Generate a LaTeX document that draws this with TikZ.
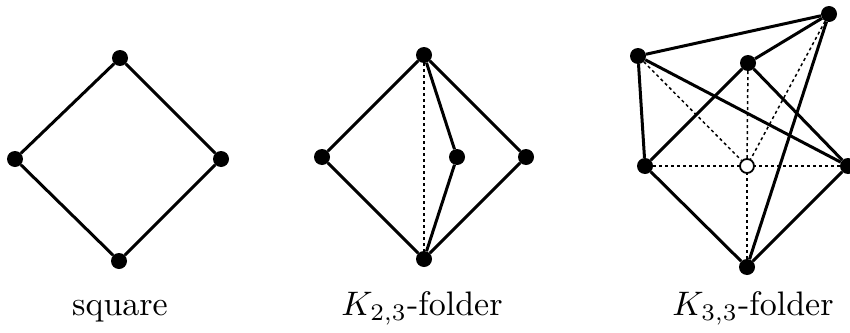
\documentclass[tikz,border=0pt]{standalone}
\begin{document}
\begin{tikzpicture}[x=1pt,y=-1pt,
  vtx/.style={circle,fill=black,inner sep=0pt,minimum size=16pt},
  ovtx/.style={circle,draw=black,fill=white,line width=1.8pt,inner sep=0pt,minimum size=14pt},
  edge/.style={line width=3pt},
  dedge/.style={line width=1.5pt,dash pattern=on 3pt off 3pt},
  lbl/.style={anchor=base,inner sep=0pt}]
\useasboundingbox (0,0) rectangle (850,332);
\clip (0,0) rectangle (850,332);
% square
\node[vtx] (st) at (120,58) {};
\node[vtx] (sl) at (15,159) {};
\node[vtx] (sr) at (221,159) {};
\node[vtx] (sb) at (119,261) {};
\draw[edge] (st) -- (sl) -- (sb) -- (sr) -- (st);
% K23
\node[vtx] (at) at (424,55) {};
\node[vtx] (al) at (322,157) {};
\node[vtx] (am) at (457,157) {};
\node[vtx] (ar) at (526,157) {};
\node[vtx] (ab) at (424,259) {};
\draw[dedge] (at) -- (ab);
\draw[edge] (at) -- (al) -- (ab) -- (ar) -- (at);
\draw[edge] (at) -- (am) -- (ab);
% K33
\node[vtx] (tr) at (829,14) {};
\node[vtx] (ul) at (638,56) {};
\node[vtx] (um) at (748,63) {};
\node[vtx] (bl) at (645,166) {};
\node[vtx] (br) at (848,166) {};
\node[vtx] (bb) at (747,267) {};
\node[ovtx] (c) at (747,166) {};
\foreach \v in {tr,ul,um,bl,br,bb} \draw[dedge] (\v) -- (c);
\draw[edge] (ul) -- (tr);
\draw[edge] (ul) -- (bl);
\draw[edge] (ul) -- (br);
\draw[edge] (um) -- (tr);
\draw[edge] (um) -- (bl);
\draw[edge] (um) -- (br);
\draw[edge] (tr) -- (bb);
\draw[edge] (bl) -- (bb);
\draw[edge] (br) -- (bb);
% labels
\node[lbl] (l1) at (120,315) {\scalebox{3.4}{square}};
\node[lbl] (l2) at (422,315) {\scalebox{3.4}{$K_{2,3}$-folder}};
\node[lbl] (l3) at (753,315) {\scalebox{3.4}{$K_{3,3}$-folder}};
\end{tikzpicture}
\end{document}
